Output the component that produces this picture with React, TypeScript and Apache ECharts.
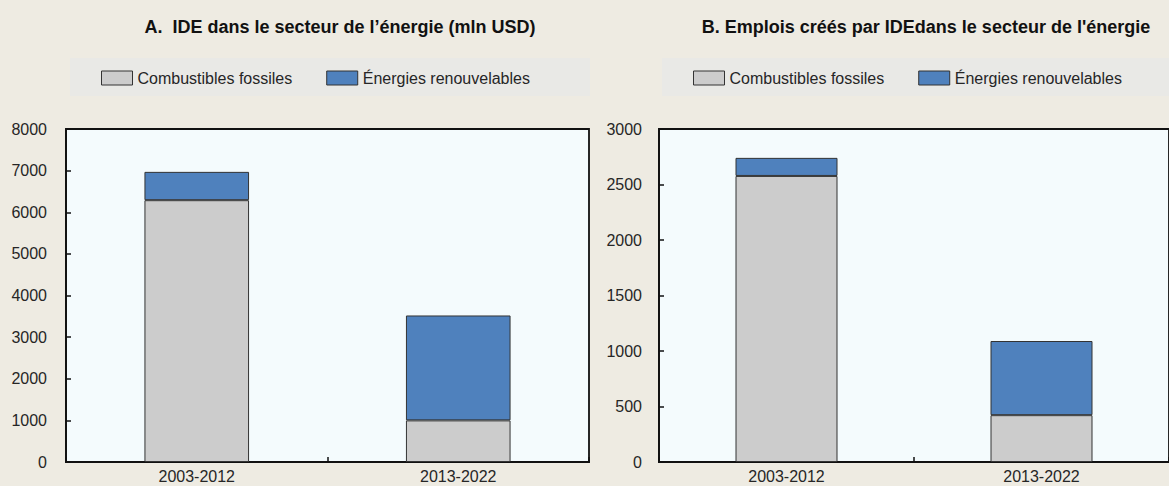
import React, { useEffect, useRef } from "react";
import * as echarts from "echarts";

const categories = ["2003-2012", "2013-2022"];
const seriesNames = ["Combustibles fossiles", "Énergies renouvelables"];
const fdiFossil = [6290, 1000];
const fdiRenew = [680, 2520];
const jobsFossil = [2577, 422];
const jobsRenew = [163, 668];
const titleA = "A.  IDE dans le secteur de l’énergie (mln USD)";
const titleB = "B. Emplois créés par IDEdans le secteur de l'énergie";

const FONT = "'Liberation Sans', Arial, sans-serif";
const GREY = "#cccccc";
const BLUE = "#4f81bd";
const TEXT = "#262626";

export default function App() {
  const ref = useRef<HTMLDivElement>(null);
  useEffect(() => {
    if (!ref.current) return;
    const chart = echarts.init(ref.current, null, { renderer: "svg" });
    const grids = [
      { left: 66, top: 129, width: 523, height: 333 },
      { left: 659, top: 129, width: 524, height: 333 },
    ];
    const xAxis = grids.map((_, i) => ({
      type: "category",
      gridIndex: i,
      data: categories,
      axisLine: { lineStyle: { color: "#111", width: 1.8 } },
      axisTick: { show: true, inside: true, length: 5, interval: 0, lineStyle: { color: "#111", width: 1.5 } },
      axisLabel: { color: TEXT, fontSize: 16, fontFamily: FONT, margin: 6 },
    }));
    const yMax = [8000, 3000];
    const yInt = [1000, 500];
    const yAxis = grids.map((_, i) => ({
      type: "value",
      gridIndex: i,
      min: 0,
      max: yMax[i],
      interval: yInt[i],
      splitLine: { show: false },
      axisLine: { show: true, lineStyle: { color: "#111", width: 1.8 } },
      axisTick: { show: true, inside: true, length: 5, lineStyle: { color: "#111", width: 1.5 } },
      axisLabel: {
        color: TEXT,
        fontSize: 16,
        fontFamily: FONT,
        margin: i === 0 ? 19 : 17,
        formatter: (v: number) => String(v),
      },
    }));
    const mk = (name: string, data: number[], idx: number, color: string) => ({
      type: "bar",
      name,
      data,
      xAxisIndex: idx,
      yAxisIndex: idx,
      stack: "s" + idx,
      barWidth: "40%",
      itemStyle: { color, borderColor: "#333", borderWidth: 1 },
    });
    const legendBase = {
      data: seriesNames,
      top: 70,
      padding: 0,
      itemWidth: 31,
      itemHeight: 14,
      itemGap: 34,
      icon: "rect",
      textStyle: { color: TEXT, fontSize: 16, fontFamily: FONT },
      itemStyle: { borderColor: "#333", borderWidth: 1 },
      selectedMode: false,
    };
    const titleStyle = {
      align: "center",
      verticalAlign: "middle",
      textAlign: "center",
      textVerticalAlign: "middle",
      font: `bold 18px ${FONT}`,
      fill: "#111",
    };
    chart.setOption({
      animation: false,
      backgroundColor: "#eeebe2",
      grid: grids.map((g) => ({
        ...g,
        show: true,
        backgroundColor: "#f4fbfd",
        borderColor: "#111",
        borderWidth: 1.8,
      })),
      graphic: [
        { type: "rect", z: -1, shape: { x: 70, y: 58, width: 520, height: 38 }, style: { fill: "#e9e9e6" } },
        { type: "rect", z: -1, shape: { x: 662, y: 58, width: 520, height: 38 }, style: { fill: "#e9e9e6" } },
        { type: "text", x: 340, y: 27, style: { ...titleStyle, text: titleA } },
        { type: "text", x: 926, y: 27, style: { ...titleStyle, text: titleB } },
      ],
      legend: [
        { ...legendBase, left: 101 },
        { ...legendBase, left: 693 },
      ],
      xAxis,
      yAxis,
      series: [
        mk(seriesNames[0], fdiFossil, 0, GREY),
        mk(seriesNames[1], fdiRenew, 0, BLUE),
        mk(seriesNames[0], jobsFossil, 1, GREY),
        mk(seriesNames[1], jobsRenew, 1, BLUE),
      ],
    });
    return () => chart.dispose();
  }, []);
  return <div ref={ref} style={{ position: "fixed", left: 0, top: 0, width: 1169, height: 486 }} />;
}
